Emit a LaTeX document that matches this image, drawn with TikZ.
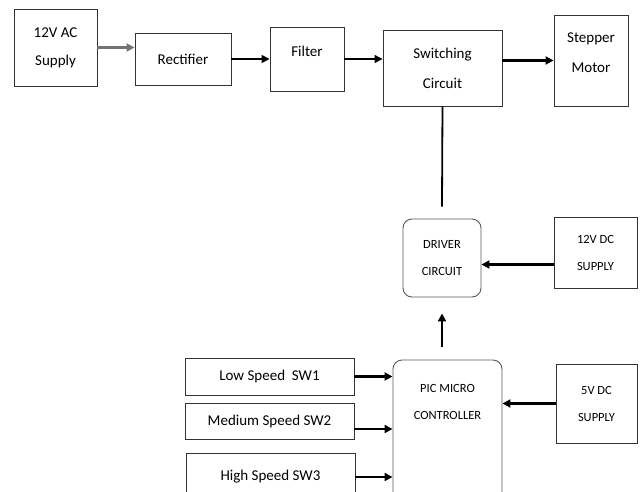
\documentclass[tikz,border=0pt]{standalone}
\usepackage{fontspec}
\setmainfont{Carlito}
\usetikzlibrary{arrows.meta}
\tikzset{
  box/.style={draw=black!80,line width=0.9pt,inner sep=0pt,align=center,
    font=\fontsize{15}{28}\selectfont},
  capsbox/.style={box,font=\fontsize{12.5}{27}\selectfont},
  rbox/.style={capsbox,draw=black!65,rounded corners=9pt},
  lbl/.style={align=center,font=\fontsize{15}{30}\selectfont},
  capslbl/.style={align=center,font=\fontsize{12.5}{27}\selectfont},
  feed/.style={line width=2pt,-{Triangle[length=8pt,width=8pt]}},
}
\begin{document}
\begin{tikzpicture}[x=1pt,y=-1pt]
\useasboundingbox (0,0) rectangle (641,491);
\clip (0,0) rectangle (641,491);

\node[box,minimum width=83,minimum height=77] (ac) at (55.5,47.5) {12V AC\\Supply};
\node[box,minimum width=96,minimum height=52] (rect) at (183,59) {Rectifier};
\node[box,minimum width=74,minimum height=64] (filter) at (307,59) {};
\node[lbl] (filterlbl) at (307,51) {Filter};
\node[box,minimum width=119,minimum height=76,font=\fontsize{15}{30}\selectfont] (switch) at (442.5,68) {Switching\\Circuit};
\node[box,minimum width=74,minimum height=91] (motor) at (591,60.5) {};
\node[lbl] (motorlbl) at (591,53) {Stepper\\Motor};

\node[rbox,minimum width=78,minimum height=78] (driver) at (442,258) {DRIVER\\CIRCUIT};
\node[capsbox,minimum width=83,minimum height=71] (dcbig) at (595.5,252.5) {12V DC\\SUPPLY};

\node[box,minimum width=169,minimum height=37] (low) at (269.5,376.5) {Low Speed\ \ SW1};
\node[box,minimum width=169,minimum height=36] (medium) at (269.5,421) {Medium Speed SW2};
\node[box,minimum width=169,minimum height=48] (high) at (270.5,477) {High Speed SW3};
\node[rbox,minimum width=109,minimum height=160] (pic) at (447.5,440) {};
\node[capslbl] (piclbl) at (447.5,401.5) {PIC MICRO\\CONTROLLER};
\node[capsbox,minimum width=81,minimum height=79] (dcsmall) at (596.5,403.5) {5V DC\\SUPPLY};

\draw[feed,draw=black!55,line width=2.5pt] (ac.east) -- (ac.east -| rect.west);
\draw[feed,line width=1.5pt] (rect.east) -- (filter.west);
\draw[feed,line width=1.2pt] (filter.east) -- (filter.east -| switch.west);
\draw[feed,line width=3pt] (motor.west -| switch.east) -- (motor.west);
\draw[line width=1.8pt] (switch.south) -- ([yshift=12pt]driver.north);
\draw[feed,line width=2.5pt] ([yshift=-12pt]dcbig.west) -- ([yshift=-12pt]dcbig.west -| driver.east);
\draw[feed] ([yshift=13pt]driver.south |- pic.north) -- ([yshift=-16pt]driver.south);
\draw[feed,line width=2.2pt] (low.east) -- (low.east -| pic.west);
\draw[feed,line width=2.2pt] ([yshift=-8pt]medium.east) -- ([yshift=-8pt]medium.east -| pic.west);
\draw[feed,line width=2.2pt] (high.east) -- (high.east -| pic.west);
\draw[feed,line width=2.2pt] (dcsmall.west) -- (dcsmall.west -| pic.east);
\end{tikzpicture}
\end{document}
